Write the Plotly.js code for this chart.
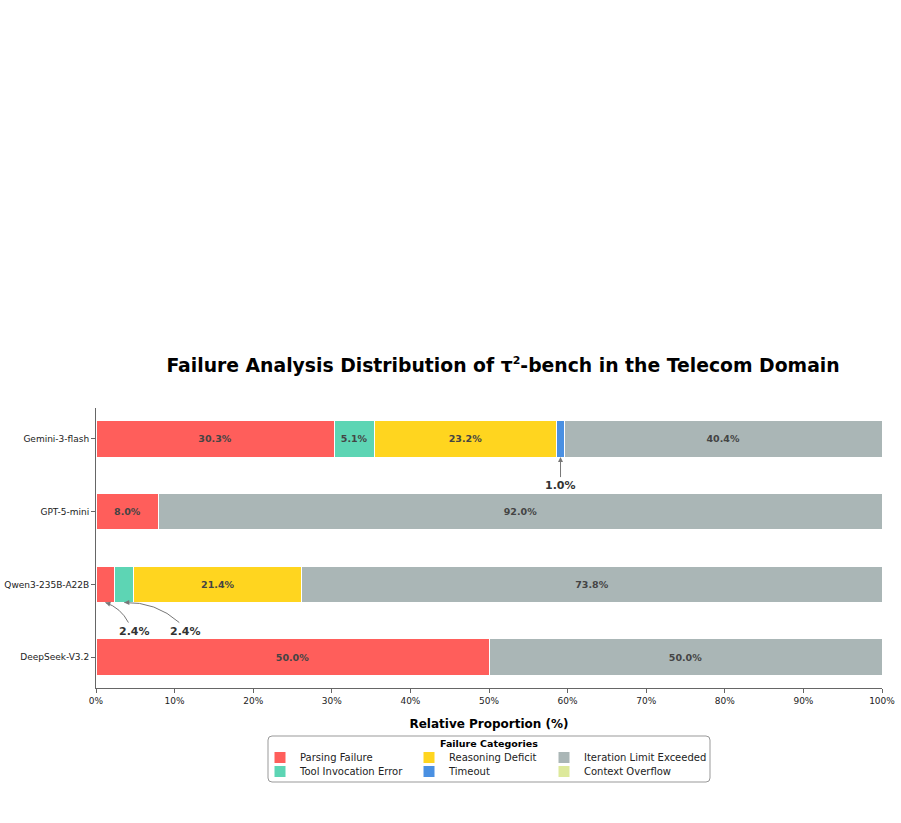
<!DOCTYPE html>
<html>
<head>
<meta charset="utf-8">
<script src="https://cdn.plot.ly/plotly-3.0.1.min.js"></script>
<style>html,body{margin:0;padding:0;background:#fff;}#chart{width:901px;height:823px;}</style>
</head>
<body>
<div id="chart"></div>
<script>
const models = ["Gemini-3-flash", "GPT-5-mini", "Qwen3-235B-A22B", "DeepSeek-V3.2"];
const categories = ["Parsing Failure", "Tool Invocation Error", "Reasoning Deficit", "Timeout", "Iteration Limit Exceeded", "Context Overflow"];
const parsingFailure = [30.3, 8.0, 2.4, 50.0];
const toolInvocationError = [5.1, 0.0, 2.4, 0.0];
const reasoningDeficit = [23.2, 0.0, 21.4, 0.0];
const timeout = [1.0, 0.0, 0.0, 0.0];
const iterationLimit = [40.4, 92.0, 73.8, 50.0];
const contextOverflow = [0.0, 0.0, 0.0, 0.0];
const xTickVals = [0, 10, 20, 30, 40, 50, 60, 70, 80, 90, 100];
const xTickText = ["0%", "10%", "20%", "30%", "40%", "50%", "60%", "70%", "80%", "90%", "100%"];

const series = [parsingFailure, toolInvocationError, reasoningDeficit, timeout, iterationLimit, contextOverflow];
const colors = ["#FF5E5B", "#5DD5B4", "#FFD51F", "#4A90E2", "#AAB6B6", "#DDE99B"];
const labelThreshold = 5;

// plot geometry (pixels)
const plotL = 96, plotW = 786, plotT = 408, plotH = 280;
const yLo = -0.425, yHi = 3.425;
const pxPerX = plotW / 100, pxPerY = plotH / (yHi - yLo);

// legend grid: 3 columns x 2 rows, column-major (one legend per entry)
const legendIds = ["legend", "legend2", "legend3", "legend4", "legend5", "legend6"];
const colLeftPx = [260, 409, 544];
const rowTopPx = [743, 757];

const traces = series.map((vals, i) => ({
  type: "bar",
  orientation: "h",
  name: categories[i],
  y: models,
  x: vals,
  width: 0.5,
  legend: legendIds[i],
  marker: {color: colors[i], line: {color: "#ffffff", width: 1}},
  text: vals.map(v => v >= labelThreshold ? v.toFixed(1) + "%" : ""),
  textposition: "inside",
  insidetextanchor: "middle",
  textangle: 0,
  constraintext: "none",
  textfont: {family: "DejaVu Sans", size: 9.5, color: "#444444", weight: "bold"},
  hoverinfo: "name+x"
}));

// small-segment callouts, positioned from the data
const annotations = [];
const shapes = [];
const offsets = {"0-3": [0, 28], "2-0": [29, 29], "2-1": [61, 29]};
const calloutFont = {family: "DejaVu Sans", size: 11, color: "#333333", weight: "bold"};
models.forEach((m, mi) => {
  let cum = 0;
  series.forEach((vals, si) => {
    const v = vals[mi];
    if (v > 0 && v < labelThreshold) {
      const key = mi + "-" + si;
      const off = offsets[key] || [0, 28];
      const tipX = cum + v / 2, tipY = mi + 0.25;
      if (off[0] === 0) {
        annotations.push({
          x: tipX, y: tipY, xref: "x", yref: "y",
          text: v.toFixed(1) + "%",
          showarrow: true, arrowhead: 2, arrowsize: 1, arrowwidth: 1, arrowcolor: "#777777",
          ax: off[0], ay: off[1], font: calloutFont
        });
      } else {
        // label
        annotations.push({
          x: tipX + off[0] / pxPerX, y: tipY + off[1] / pxPerY, xref: "x", yref: "y",
          text: v.toFixed(1) + "%", showarrow: false,
          xanchor: "center", yanchor: "middle", font: calloutFont
        });
        // curved connector (arc3, rad=0.2) from label top to tip, in pixel offsets
        const sx = off[0] - 6, sy = off[1] - 9;   // start relative to tip (y down)
        const dx = -sx, dy = sy;                    // tip - start, y up
        const mx = sx / 2, my = -sy / 2;            // midpoint, y up
        const rad = 0.2;
        const cx = mx + rad * dy, cyUp = my - rad * dx;
        const cy = -cyUp;                           // back to y down
        const X = p => tipX + p / pxPerX, Y = p => tipY + p / pxPerY;
        shapes.push({
          type: "path", xref: "x", yref: "y",
          path: `M ${X(sx)} ${Y(sy)} Q ${X(cx)} ${Y(cy)} ${X(0)} ${Y(0)}`,
          line: {color: "#777777", width: 1}, fillcolor: "rgba(0,0,0,0)"
        });
        // arrowhead along the tangent at the tip
        const len = Math.hypot(cx, cy) || 1;
        annotations.push({
          x: tipX, y: tipY, xref: "x", yref: "y", text: "",
          showarrow: true, arrowhead: 2, arrowsize: 1, arrowwidth: 1, arrowcolor: "#777777",
          ax: cx / len * 6, ay: cy / len * 6
        });
      }
    }
    cum += v;
  });
});

// legend title (shared box)
annotations.push({
  xref: "paper", yref: "paper", x: 0.5, y: -(743 - 688) / 280,
  xanchor: "center", yanchor: "middle", showarrow: false,
  text: "Failure Categories",
  font: {family: "DejaVu Sans", size: 9.5, color: "#000000", weight: "bold"}
});

// rounded legend frame
const bx0 = (268 - 96) / 786, bx1 = (710 - 96) / 786;
const by0 = -(736 - 688) / 280, by1 = -(782 - 688) / 280;
const rx = 4 / 786, ry = 4 / 280;
const framePath = `M ${bx0 + rx} ${by0} L ${bx1 - rx} ${by0} Q ${bx1} ${by0} ${bx1} ${by0 - ry} ` +
  `L ${bx1} ${by1 + ry} Q ${bx1} ${by1} ${bx1 - rx} ${by1} L ${bx0 + rx} ${by1} ` +
  `Q ${bx0} ${by1} ${bx0} ${by1 + ry} L ${bx0} ${by0 - ry} Q ${bx0} ${by0} ${bx0 + rx} ${by0} Z`;
shapes.push({type: "path", xref: "paper", yref: "paper", path: framePath,
  line: {color: "#999999", width: 1}, fillcolor: "rgba(0,0,0,0)", layer: "below"});

const layout = {
  width: 901, height: 823,
  paper_bgcolor: "#ffffff", plot_bgcolor: "#ffffff",
  margin: {l: plotL, r: 901 - plotL - plotW, t: plotT, b: 823 - plotT - plotH},
  barmode: "stack",
  bargap: 0.5,
  showlegend: true,
  title: {
    text: "Failure Analysis Distribution of τ<sup><span style=\"font-size:11px\">2</span></sup>-bench in the Telecom Domain",
    font: {family: "DejaVu Sans", size: 18.8, color: "#000000", weight: "bold"},
    x: 503 / 901, xanchor: "center", xref: "container",
    y: 1 - 365 / 823, yanchor: "middle", yref: "container"
  },
  xaxis: {
    range: [0, 100],
    tickvals: xTickVals, ticktext: xTickText,
    showgrid: false, zeroline: false,
    showline: true, linecolor: "#666666", linewidth: 1,
    ticks: "outside", ticklen: 4, tickcolor: "#666666",
    tickfont: {family: "DejaVu Sans", size: 9, color: "#222222"},
    title: {text: "Relative Proportion (%)", standoff: 14,
      font: {family: "DejaVu Sans", size: 12, color: "#000000", weight: "bold"}},
    fixedrange: true
  },
  yaxis: {
    type: "category",
    categoryorder: "array", categoryarray: models,
    range: [yHi, yLo],
    showgrid: false, zeroline: false,
    showline: true, linecolor: "#666666", linewidth: 1,
    ticks: "outside", ticklen: 4, tickcolor: "#666666",
    tickfont: {family: "DejaVu Sans", size: 9, color: "#222222"},
    fixedrange: true
  },
  shapes: shapes,
  annotations: annotations
};

legendIds.forEach((id, i) => {
  const col = Math.floor(i / 2), row = i % 2;
  layout[id] = {
    orientation: "v",
    xanchor: "left", yanchor: "top",
    x: (colLeftPx[col] - plotL) / plotW,
    y: -(rowTopPx[row] - (plotT + plotH)) / plotH,
    bgcolor: "rgba(0,0,0,0)", borderwidth: 0,
    font: {family: "DejaVu Sans", size: 10, color: "#222222"}
  };
});

Plotly.newPlot("chart", traces, layout, {displayModeBar: false, staticPlot: true});
</script>
</body>
</html>
